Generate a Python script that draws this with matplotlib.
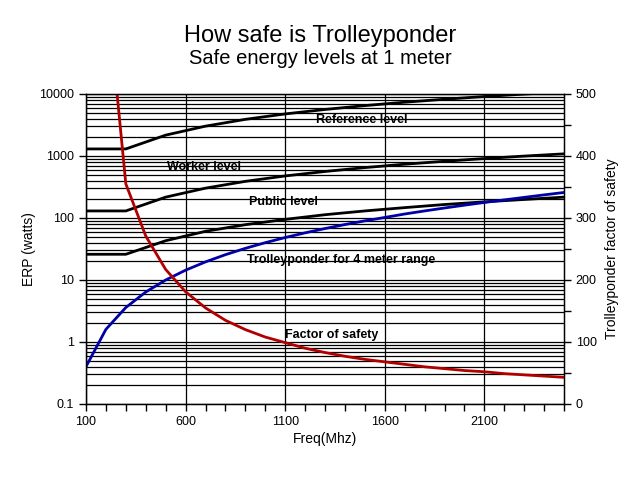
import numpy as np
import matplotlib
matplotlib.use('Agg')
import matplotlib.pyplot as plt
from matplotlib.ticker import LogLocator, FixedLocator, NullFormatter, MultipleLocator

plt.rcParams['font.family'] = ['Liberation Sans', 'DejaVu Sans']

# exposure limits (watts ERP)
freq_lim = [100, 300, 500, 700, 900, 1100, 1300, 1500, 1700, 1900, 2100, 2300, 2500]
reference = [1300, 1300, 2170, 3030, 3900, 4770, 5630, 6500, 7370, 8230, 9100, 9970, 10830]
worker = [130, 130, 217, 303, 390, 477, 563, 650, 737, 823, 910, 997, 1083]
public = [26, 26, 43, 61, 78, 95, 113, 130, 147, 165, 182, 199, 217]

# trolleyponder ERP for 4 meter range
freq_tp = [100, 200, 300, 400, 500, 600, 700, 800, 900, 1000, 1100, 1200, 1300,
           1400, 1500, 1600, 1700, 1800, 1900, 2000, 2100, 2200, 2300, 2400, 2500]
trolley = [0.4, 1.6, 3.6, 6.4, 10, 14.4, 19.6, 25.6, 32.4, 40, 48.4, 57.6, 67.6,
           78.4, 90, 102, 116, 130, 145, 161, 178, 196, 215, 236, 258]

# factor of safety (right axis)
freq_fs = [200, 250, 300, 400, 500, 600, 700, 800, 900, 1000, 1100, 1200, 1300,
           1400, 1500, 1600, 1700, 1800, 1900, 2000, 2100, 2200, 2300, 2400, 2500]
safety = [812, 520, 355, 271, 217, 181, 155, 135, 120, 108, 99, 90, 83,
          77, 72, 68, 64, 60, 57, 54, 52, 49, 47, 45, 43]

fig = plt.figure(figsize=(6.4, 4.8), dpi=100)
ax = fig.add_axes([86/640, 1 - 404/480, (564-86)/640, (404-94)/480])

ax.plot(freq_lim, reference, color='black', lw=2, zorder=3)
ax.plot(freq_lim, worker, color='black', lw=2, zorder=3)
ax.plot(freq_lim, public, color='black', lw=2, zorder=3)
ax.plot(freq_tp, trolley, color='#0000a8', lw=2, zorder=4)

ax.set_yscale('log')
ax.set_ylim(0.1, 10000)
ax.set_xlim(100, 2500)
ax.set_xticks([100, 600, 1100, 1600, 2100])
ax.xaxis.set_minor_locator(MultipleLocator(100))
ax.yaxis.set_major_locator(FixedLocator([0.1, 1, 10, 100, 1000, 10000]))
ax.set_yticklabels(['0.1', '1', '10', '100', '1000', '10000'])
ax.yaxis.set_minor_locator(LogLocator(base=10, subs=np.arange(2, 10), numticks=20))
ax.yaxis.set_minor_formatter(NullFormatter())
ax.grid(True, which='major', axis='x', color='black', lw=0.9)
ax.grid(True, which='both', axis='y', color='black', lw=0.9)
ax.set_axisbelow(True)
ax.tick_params(axis='both', which='major', length=5, width=1, labelsize=9, direction='out', colors='black')
ax.tick_params(axis='y', which='minor', length=0)
ax.tick_params(axis='x', which='minor', length=5, width=1, direction='out')
for s in ax.spines.values():
    s.set_linewidth(1)

ax.set_xlabel('Freq(Mhz)', fontsize=10, labelpad=3)
ax.set_ylabel('ERP (watts)', fontsize=10, labelpad=2)

ax2 = ax.twinx()
ax2.plot(freq_fs, safety, color='#b00000', lw=2)
ax2.set_ylim(0, 500)
ax2.yaxis.set_major_locator(MultipleLocator(100))
ax2.yaxis.set_minor_locator(MultipleLocator(50))
ax2.tick_params(axis='y', which='both', length=5, width=1, labelsize=9, direction='out')
ax2.set_ylabel('Trolleyponder factor of safety', fontsize=10, labelpad=6)

lbl = dict(fontsize=9, fontweight='bold', ha='left', va='center', zorder=5)
ax.text(1253, 3800, 'Reference level', **lbl)
ax.text(506, 670, 'Worker level', **lbl)
ax.text(917, 182, 'Public level', **lbl)
ax.text(907, 21, 'Trolleyponder for 4 meter range', **lbl)
ax.text(1098, 1.3, 'Factor of safety', **lbl)

fig.text(0.5, 1 - 36/480, 'How safe is Trolleyponder', ha='center', va='center', fontsize=17)
fig.text(0.5, 1 - 59/480, 'Safe energy levels at 1 meter', ha='center', va='center', fontsize=14.5)

fig.savefig('out.png', dpi=100)
